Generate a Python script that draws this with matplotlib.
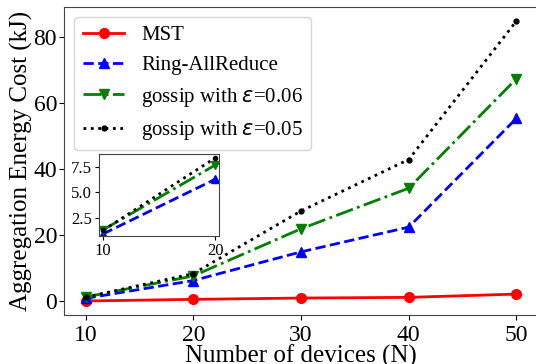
import matplotlib
matplotlib.use("Agg")
import matplotlib.pyplot as plt

plt.rcParams['font.family'] = ['Liberation Serif', 'DejaVu Serif']

devices = [10, 20, 30, 40, 50]
mst = [0.1, 0.6, 1.0, 1.2, 2.2]
ring = [0.9, 6.3, 15.0, 22.5, 55.5]
gossip_006 = [1.3, 7.7, 22.0, 34.3, 67.5]
gossip_005 = [1.25, 8.4, 27.4, 43.0, 85.0]
inset_devices = [10, 20]
xticks = [10, 20, 30, 40, 50]
yticks = [0, 20, 40, 60, 80]

fig = plt.figure(figsize=(5.36, 3.64), dpi=100)
ax = fig.add_axes([64/536, 1 - 315/364, (538-64)/536, (315-7)/364])

ax.plot(devices, mst, color='red', linestyle='-', marker='o', markersize=7, linewidth=2, label='MST')
ax.plot(devices, ring, color='blue', linestyle='--', marker='^', markersize=7, linewidth=2, label='Ring-AllReduce')
ax.plot(devices, gossip_006, color='green', linestyle='-.', marker='v', markersize=7, linewidth=2, label=r'gossip with $\epsilon$=0.06')
ax.plot(devices, gossip_005, color='black', linestyle=':', marker='.', markersize=7, linewidth=2, label=r'gossip with $\epsilon$=0.05')

ax.set_xticks(xticks)
ax.set_yticks(yticks)
ax.tick_params(labelsize=17)
ax.tick_params(axis='y', pad=1.5)
ax.set_xlabel('Number of devices (N)', fontsize=18, labelpad=-1)
ax.set_ylabel('Aggregation Energy Cost (kJ)', fontsize=18, labelpad=0)
ax.set_xlim(8, 52)
for s in ax.spines.values():
    s.set_color('#444444')
ax.legend(loc='upper left', fontsize=15, fancybox=True, framealpha=0.8, borderaxespad=0.5)

ins = fig.add_axes([99/536, 1 - 236/364, (219-99)/536, (236-154)/364])
n = len(inset_devices)
ins.plot(inset_devices, ring[:n], color='blue', linestyle='--', marker='^', markersize=6, linewidth=2)
ins.plot(inset_devices, gossip_006[:n], color='green', linestyle='-.', marker='v', markersize=6, linewidth=2)
ins.plot(inset_devices, gossip_005[:n], color='black', linestyle=':', marker='.', markersize=6, linewidth=2)
ins.set_xticks([10, 20])
ins.set_yticks([2.5, 5.0, 7.5])
ins.set_xlim(9.65, 20.35)
ins.set_ylim(0.7, 8.8)
ins.tick_params(labelsize=12, length=3, pad=2)
for s in ins.spines.values():
    s.set_color('#444444')

fig.savefig('out.png', dpi=100)
